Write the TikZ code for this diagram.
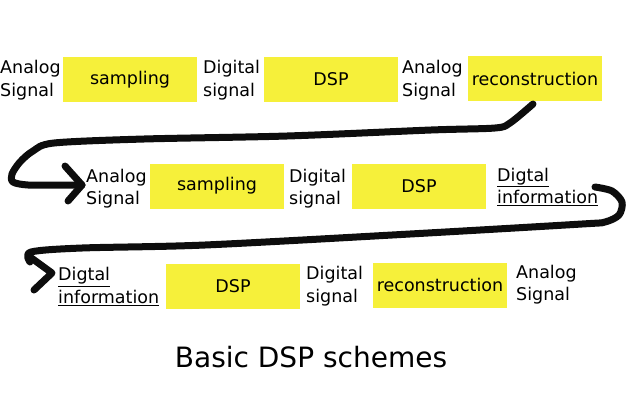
\documentclass[tikz,border=0pt]{standalone}
\usepackage{fontspec}
\setmainfont{DejaVu Sans}
\definecolor{boxyellow}{HTML}{F6F03A}
\tikzset{
  procbox/.style={fill=boxyellow, minimum width=134pt, minimum height=45pt, inner sep=0pt,
    font=\fontsize{17.5}{21}\selectfont},
  lbl/.style={anchor=west, inner sep=0pt, align=left, font=\fontsize{17.5}{22.5}\selectfont},
  scribble/.style={line width=7pt, line cap=round, line join=round, black!95},
}
\begin{document}
\begin{tikzpicture}[x=1pt,y=-1pt]
\useasboundingbox (0,0) rectangle (640,400);
% row 1
\node[lbl] (a1) at (0,80) {Analog\\Signal};
\node[procbox] (s1) at (130,79.5) {sampling};
\node[lbl] (b1) at (203,80) {Digital\\signal};
\node[procbox] (d1) at (331,79.5) {DSP};
\node[lbl] (c1) at (402,80) {Analog\\Signal};
\node[procbox] (r1) at (535,78.5) {reconstruction};
% row 2
\node[lbl] (a2) at (86,188.5) {Analog\\Signal};
\node[procbox] (s2) at (217,186) {sampling};
\node[lbl] (b2) at (289,188.5) {Digital\\signal};
\node[procbox] (d2) at (419,186) {DSP};
\node[lbl] (c2) at (497,187) {\underline{Digtal}\\\underline{information}};
% row 3
\node[lbl] (a3) at (58,286.5) {\underline{Digtal}\\\underline{information}};
\node[procbox] (d3) at (233,286) {DSP};
\node[lbl] (b3) at (306,286) {Digital\\signal};
\node[procbox] (r3) at (440,285) {reconstruction};
\node[lbl] (c3) at (516,284.5) {Analog\\Signal};
% title
\node[inner sep=0pt, font=\fontsize{28}{32}\selectfont] (title) at (311,357) {Basic DSP schemes};
% connector 1
\coordinate (p1s) at (533,104);
\coordinate (p1e) at (82,185);
\draw[scribble] plot[smooth, tension=0.5] coordinates {(p1s) (510,123) (495,128) (431,130) (287,136) (144,139) (54,143) (33,151) (20,162) (12,174) (13,182) (28,185) (60,185) (p1e)};
\draw[scribble] (65,166) -- (p1e) -- (68,201);
% connector 2
\coordinate (p2s) at (595,187);
\coordinate (p2e) at (52,273);
\draw[scribble] plot[smooth, tension=0.5] coordinates {(p2s) (612,191) (622,202) (619,215) (605,222) (582,224) (410,234) (205,245) (82,248) (31,252) (30,262)};
\draw[scribble] (30,257) -- (p2e) -- (34,290);
\end{tikzpicture}
\end{document}
